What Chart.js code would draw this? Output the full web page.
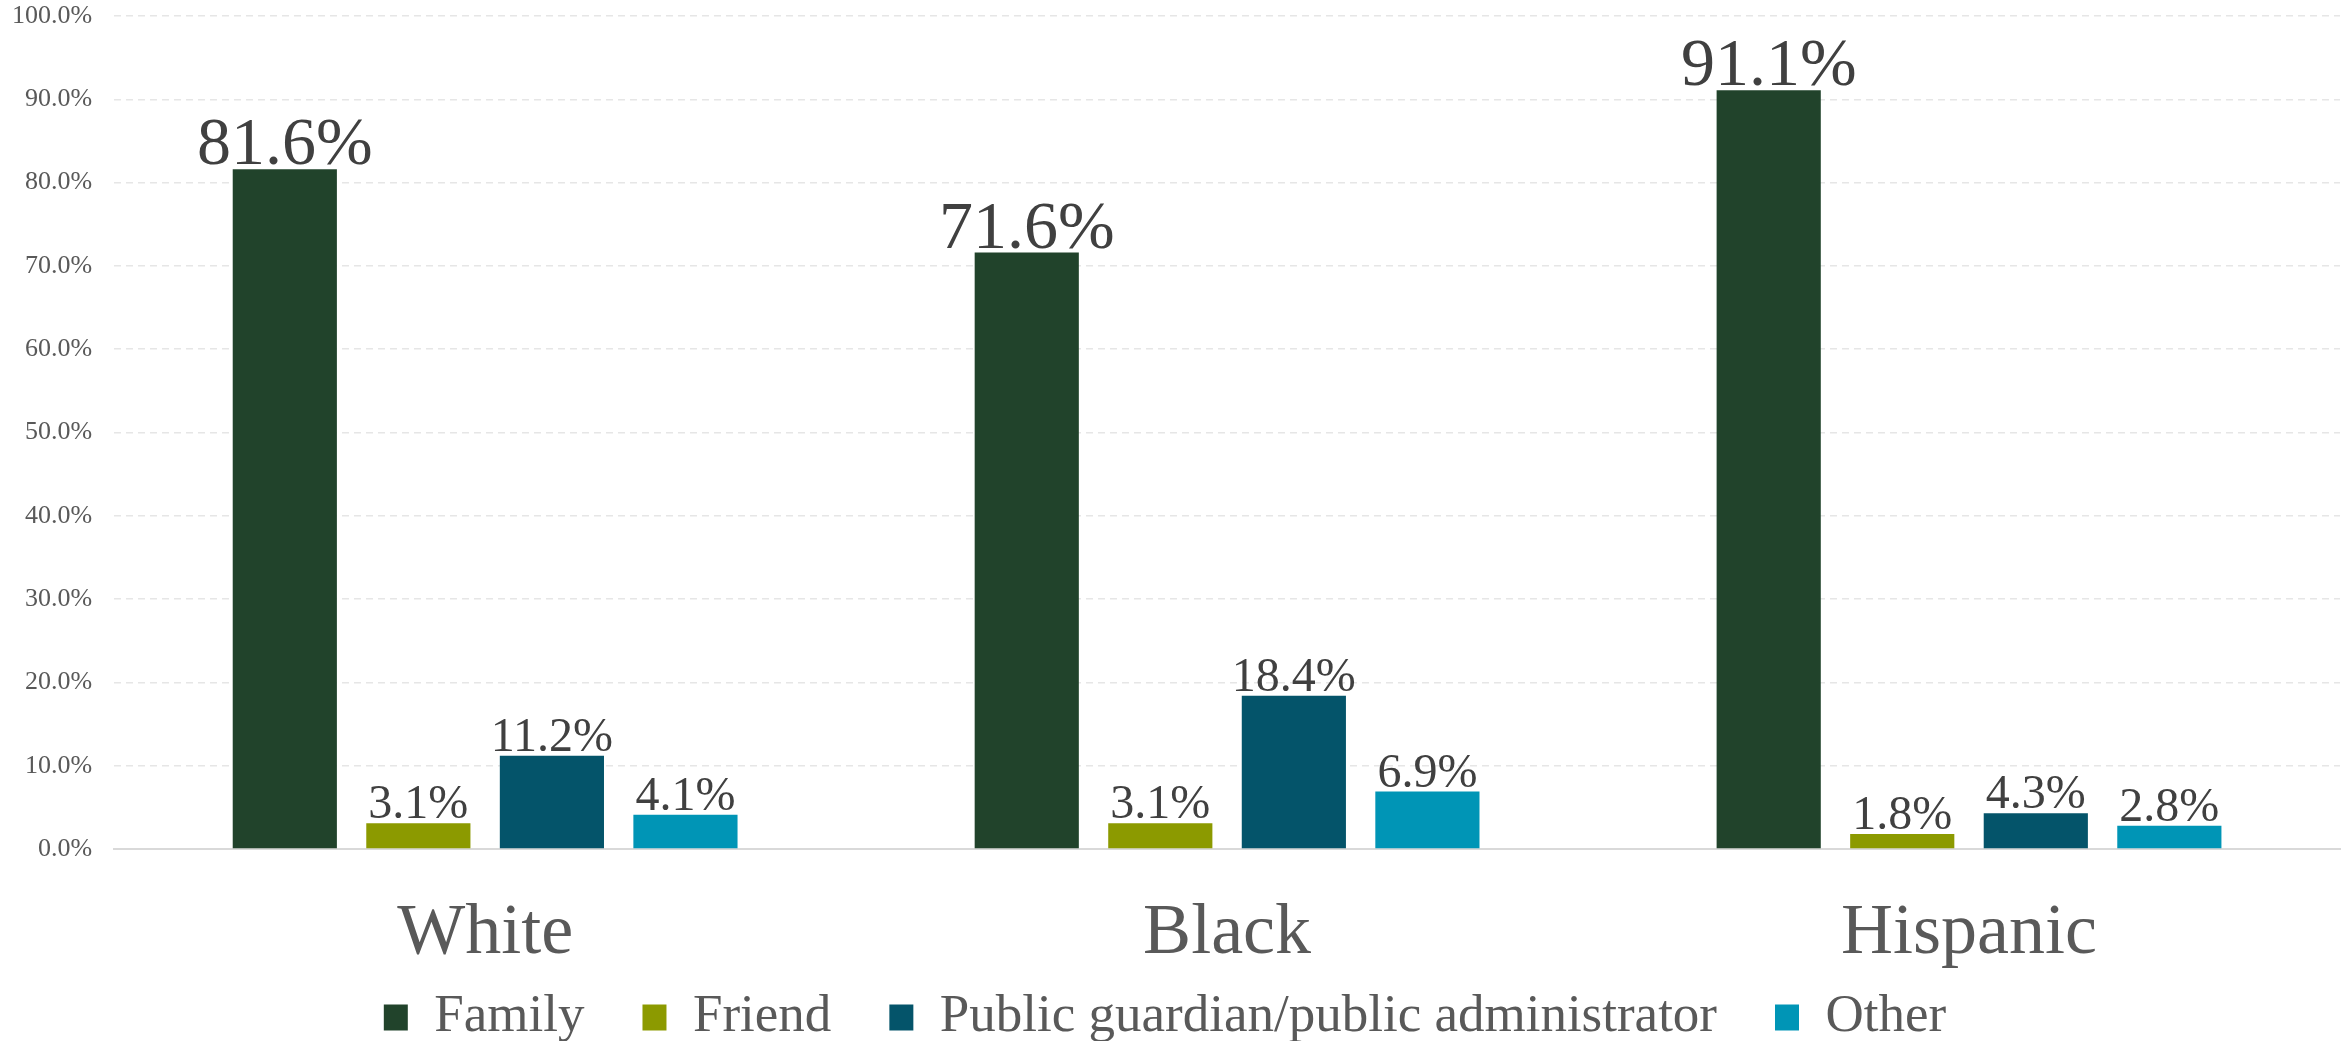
<!DOCTYPE html>
<html>
<head>
<meta charset="utf-8">
<script src="https://cdn.jsdelivr.net/npm/chart.js@4"></script>
<style>
  html, body { margin: 0; padding: 0; background: #fff; }
  #wrap { width: 2346px; height: 1041px; }
</style>
</head>
<body>
<div id="wrap"><canvas id="myChart"></canvas></div>
<script>
// dados
var categorias = ['White', 'Black', 'Hispanic'];
var family = [81.6, 71.6, 91.1];
var friend = [3.1, 3.1, 1.8];
var publicGuardian = [11.2, 18.4, 4.3];
var other = [4.1, 6.9, 2.8];
var seriesNomes = ['Family', 'Friend', 'Public guardian/public administrator', 'Other'];
var cores = ['#21432B', '#8C9A00', '#04546A', '#0095B6'];

var fonte = "'Liberation Serif', 'Times New Roman', serif";

// rotulos em cima das barras
var rotulos = {
    id: 'rotulos',
    afterDatasetsDraw(chart) {
        const ctx = chart.ctx;
        chart.data.datasets.forEach((ds, i) => {
            const meta = chart.getDatasetMeta(i);
            const tam = i === 0 ? 68 : 48;
            ctx.save();
            ctx.font = tam + 'px ' + fonte;
            ctx.fillStyle = '#404040';
            ctx.textAlign = 'center';
            ctx.textBaseline = 'alphabetic';
            meta.data.forEach((bar, j) => {
                ctx.fillText(ds.data[j].toFixed(1) + '%', bar.x, bar.y - 5);
            });
            ctx.restore();
        });
    }
};

// deixa os nomes das categorias passarem um pouco da caixa do eixo x
var soltaEixo = {
    id: 'soltaEixo',
    afterLayout(chart) {
        chart.scales.x.bottom = chart.height;
    }
};

const data = {
    labels: categorias,
    datasets: [
        { label: seriesNomes[0], data: family, backgroundColor: cores[0] },
        { label: seriesNomes[1], data: friend, backgroundColor: cores[1] },
        { label: seriesNomes[2], data: publicGuardian, backgroundColor: cores[2] },
        { label: seriesNomes[3], data: other, backgroundColor: cores[3] }
    ]
};

const config = {
    type: 'bar',
    data,
    options: {
        responsive: true,
        maintainAspectRatio: false,
        animation: false,
        categoryPercentage: 0.72,
        barPercentage: 0.78,
        layout: { padding: { left: -10, right: 6, top: 16, bottom: -13 } },
        plugins: {
            legend: {
                position: 'bottom',
                labels: {
                    font: { family: fonte, size: 53 },
                    color: '#595959',
                    boxWidth: 24,
                    boxHeight: 26,
                    padding: 58
                }
            },
            tooltip: { enabled: false }
        },
        scales: {
            x: {
                grid: { display: false },
                border: { display: true, color: '#D9D9D9', width: 2 },
                ticks: {
                    font: { family: fonte, size: 72 },
                    color: '#595959',
                    padding: 34
                },
                afterFit: s => { s.height = 84; }
            },
            y: {
                min: 0,
                max: 100,
                grid: { color: '#E6E6E6', lineWidth: 1.5, drawTicks: false },
                border: { display: false, dash: [7, 5] },
                ticks: {
                    stepSize: 10,
                    font: { family: fonte, size: 26 },
                    color: '#595959',
                    padding: 22,
                    callback: v => v.toFixed(1) + '%'
                },
                afterFit: s => { s.paddingTop = 0; }
            }
        }
    },
    plugins: [rotulos, soltaEixo]
};

var myChart = new Chart(document.getElementById('myChart'), config);
</script>
</body>
</html>
